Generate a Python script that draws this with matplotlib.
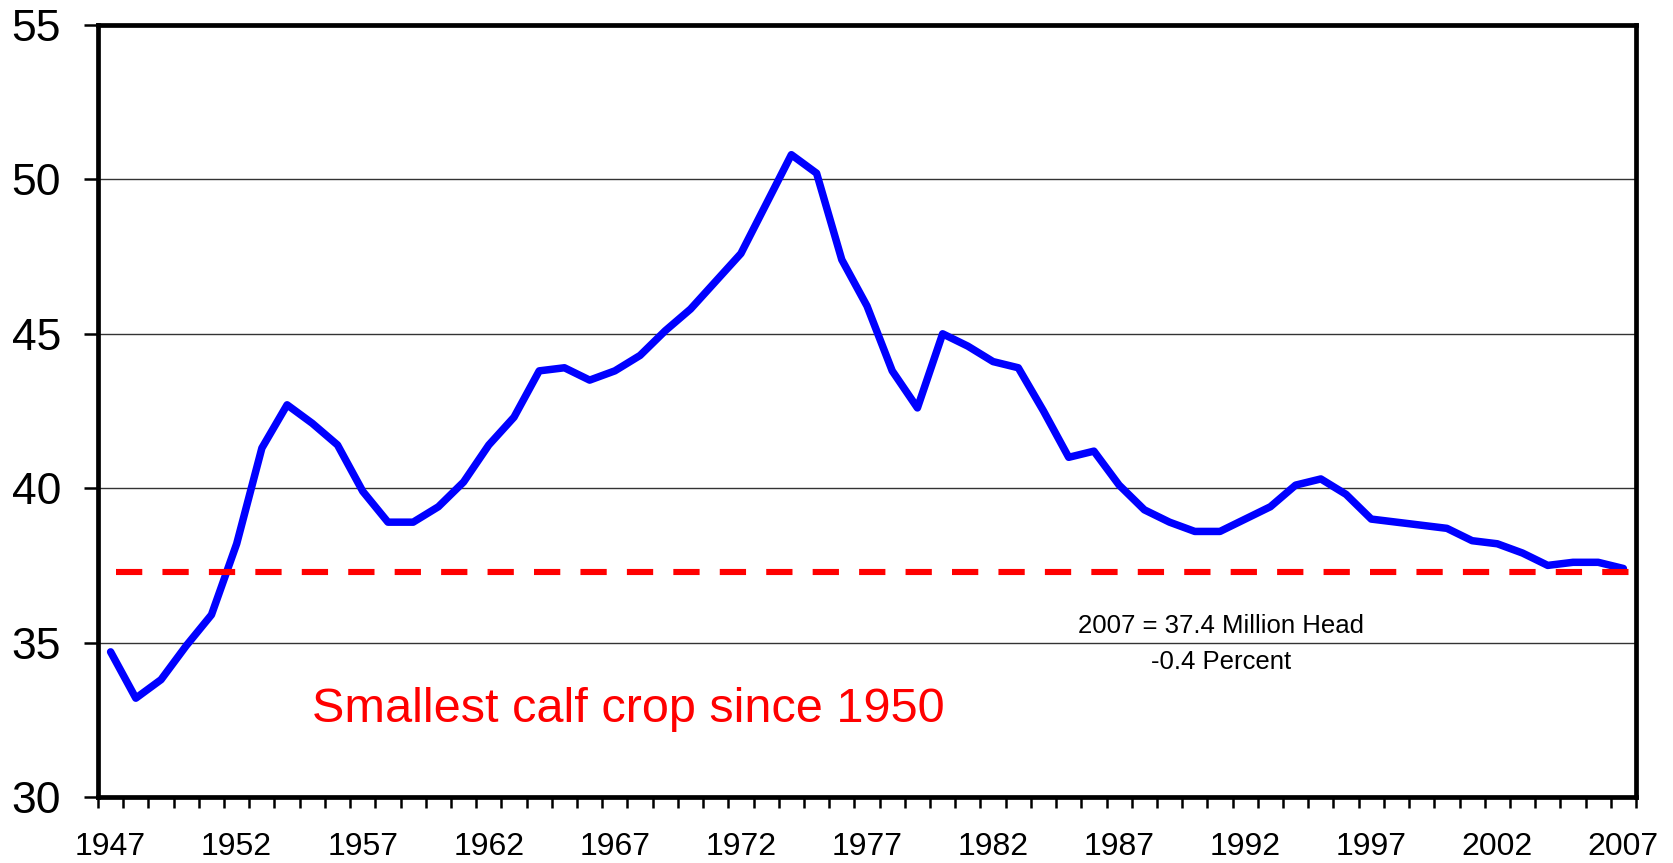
import matplotlib
matplotlib.use("Agg")
import matplotlib.pyplot as plt
import numpy as np

plt.rcParams['font.family'] = ['Liberation Sans', 'DejaVu Sans']

years = list(range(1947, 2008))
calf_crop = [34.7, 33.2, 33.8, 34.9, 35.9, 38.2, 41.3, 42.7, 42.1, 41.4,
             39.9, 38.9, 38.9, 39.4, 40.2, 41.4, 42.3, 43.8, 43.9, 43.5,
             43.8, 44.3, 45.1, 45.8, 46.7, 47.6, 49.2, 50.8, 50.2, 47.4,
             45.9, 43.8, 42.6, 45.0, 44.6, 44.1, 43.9, 42.5, 41.0, 41.2,
             40.1, 39.3, 38.9, 38.6, 38.6, 39.0, 39.4, 40.1, 40.3, 39.8,
             39.0, 38.9, 38.8, 38.7, 38.3, 38.2, 37.9, 37.5, 37.6, 37.6,
             37.4]
reference_level = 37.3
y_ticks = [30, 35, 40, 45, 50, 55]
label_years = list(range(1947, 2008, 5))
note_line1 = "2007 = 37.4 Million Head"
note_line2 = "-0.4 Percent"
headline = "Smallest calf crop since 1950"

fig = plt.figure(figsize=(16.73, 8.63), dpi=100)
ax = fig.add_axes([98/1673, 1 - 797/863, (1636-98)/1673, (797-25)/863])

x = np.arange(len(years))
ax.set_xlim(-0.5, len(years) - 0.5)
ax.set_ylim(min(y_ticks), max(y_ticks))

# gridlines
for yv in y_ticks[1:-1]:
    ax.axhline(yv, color='#333333', lw=1.0, zorder=1)

ax.plot(x, calf_crop, color='#0000ff', lw=5.4, solid_joinstyle='round',
        solid_capstyle='round', zorder=3)

ax.axhline(reference_level, xmin=0.012, xmax=1.0, color='#ff0000', lw=4.4,
           dashes=(4.3, 3.3), zorder=4)

# ticks
ax.set_yticks(y_ticks)
ax.set_yticklabels([str(v) for v in y_ticks], fontsize=32)
ax.tick_params(axis='y', which='major', direction='out', length=10, width=1.8, pad=16.5)

label_idx = [years.index(yy) for yy in label_years]
ax.set_xticks(label_idx)
ax.set_xticklabels([str(yy) for yy in label_years], fontsize=23)
ax.set_xticks(np.arange(len(years) + 1) - 0.5, minor=True)
ax.tick_params(axis='x', which='major', length=0, pad=25)
ax.tick_params(axis='x', which='minor', direction='out', length=8, width=1.8)

for s in ax.spines.values():
    s.set_linewidth(3.4)
    s.set_color('black')
    s.set_zorder(5)

ax.text(8.0, 32.42, headline, color='#ff0000', fontsize=35, ha='left', va='baseline')
ax.text(44.06, 35.3, note_line1, color='black', fontsize=18.5, ha='center', va='baseline')
ax.text(44.06, 34.13, note_line2, color='black', fontsize=18.5, ha='center', va='baseline')

fig.savefig("out.png", dpi=100)
